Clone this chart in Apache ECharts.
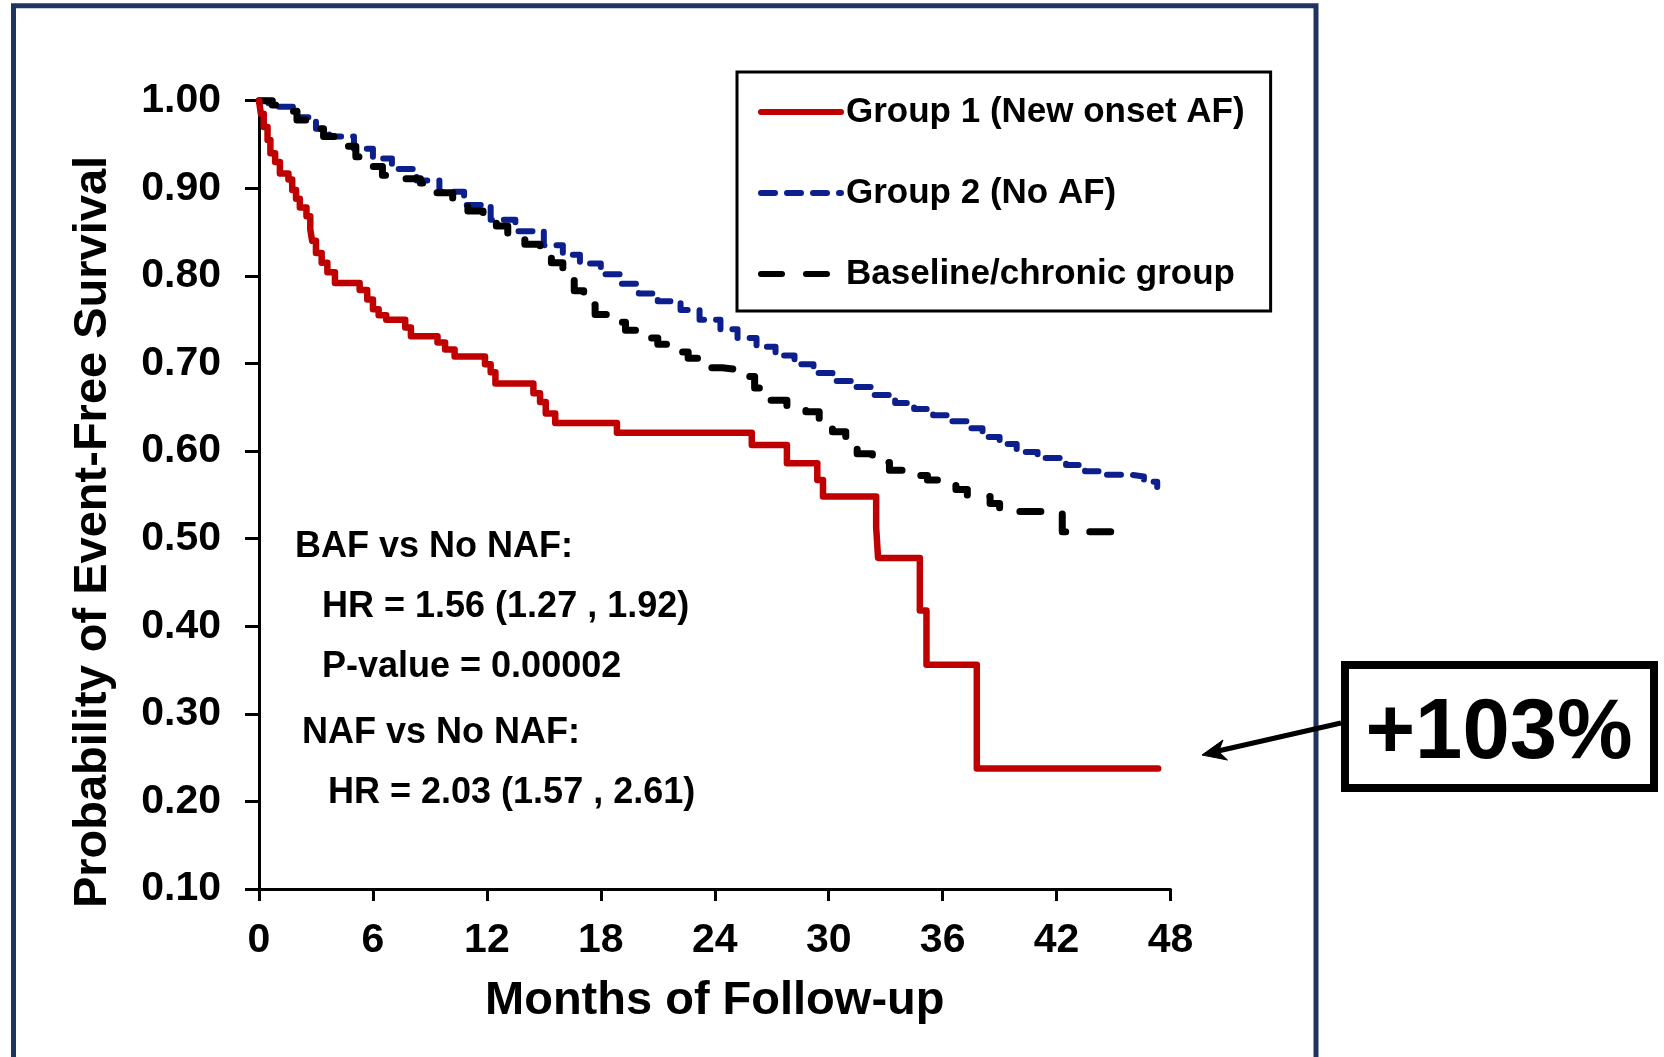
<!DOCTYPE html>
<html>
<head>
<meta charset="utf-8">
<title>Event-Free Survival by AF Group</title>
<script src="https://cdn.jsdelivr.net/npm/echarts@6/dist/echarts.min.js"></script>
<style>
  html, body { margin: 0; padding: 0; background: #ffffff; }
  #chart { width: 1664px; height: 1057px; }
</style>
</head>
<body>
<div id="chart"></div>
<script>
// Kaplan-Meier estimates: month of each step and survival after the step
const group1Months   = [0, 0.1, 0.25, 0.45, 0.6, 0.85, 1.1, 1.55, 1.75, 1.95, 2.15, 2.5, 2.7, 2.8, 3.0, 3.3, 3.6, 4.0, 5.3, 5.7, 6.0, 6.3, 6.7, 7.7, 8.0, 9.4, 9.8, 10.3, 11.9, 12.2, 12.45, 14.45, 14.8, 15.1, 15.6, 18.85, 25.95, 27.8, 29.4, 29.7, 32.5, 32.6, 34.8, 35.15, 37.8, 47.35];
const group1Survival = [1.0, 0.985, 0.97, 0.955, 0.94, 0.93, 0.917, 0.91, 0.898, 0.888, 0.878, 0.868, 0.853, 0.84, 0.826, 0.815, 0.804, 0.792, 0.784, 0.773, 0.762, 0.755, 0.75, 0.741, 0.731, 0.724, 0.716, 0.708, 0.699, 0.69, 0.677, 0.666, 0.656, 0.643, 0.632, 0.621, 0.607, 0.586, 0.567, 0.548, 0.513, 0.478, 0.418, 0.356, 0.2375, 0.2375];

const group2Months   = [0, 0.5, 1.0, 2.0, 3.0, 3.7, 5.0, 6.0, 7.0, 8.3, 9.5, 10.8, 12.2, 13.5, 15.0, 16.0, 16.9, 18.0, 19.0, 20.0, 21.0, 22.2, 23.2, 24.3, 25.2, 26.2, 27.2, 28.2, 29.2, 30.2, 31.2, 32.4, 33.5, 34.5, 35.5, 36.5, 37.3, 38.1, 39.0, 39.9, 41.0, 42.5, 43.5, 44.3, 45.9, 46.6, 47.3];
const group2Survival = [1.0, 0.997, 0.993, 0.981, 0.968, 0.959, 0.945, 0.934, 0.922, 0.909, 0.896, 0.881, 0.864, 0.851, 0.835, 0.824, 0.814, 0.802, 0.791, 0.78, 0.771, 0.761, 0.75, 0.739, 0.729, 0.719, 0.709, 0.699, 0.689, 0.68, 0.673, 0.664, 0.655, 0.648, 0.641, 0.634, 0.626, 0.616, 0.608, 0.599, 0.592, 0.584, 0.577, 0.573, 0.571, 0.565, 0.559];

const baselineMonths   = [0, 0.7, 1.4, 2.0, 2.8, 3.4, 4.3, 5.1, 5.8, 6.5, 7.5, 8.5, 9.3, 10.2, 11.0, 11.8, 12.5, 13.1, 14.0, 14.8, 15.4, 16.0, 16.6, 17.1, 17.7, 18.5, 19.3, 20.1, 21.0, 22.0, 22.6, 23.5, 24.4, 25.3, 26.1, 26.9, 27.8, 28.8, 29.5, 30.2, 30.9, 31.5, 32.3, 33.2, 34.2, 35.2, 36.0, 36.7, 37.3, 38.5, 39.0, 42.3, 45.9];
const baselineSurvival = [1.0, 0.995, 0.988, 0.978, 0.968, 0.959, 0.948, 0.936, 0.925, 0.915, 0.911, 0.906, 0.895, 0.881, 0.874, 0.868, 0.857, 0.843, 0.836, 0.828, 0.815, 0.799, 0.783, 0.767, 0.756, 0.747, 0.738, 0.729, 0.722, 0.713, 0.706, 0.695, 0.693, 0.685, 0.672, 0.658, 0.651, 0.645, 0.634, 0.622, 0.61, 0.597, 0.587, 0.578, 0.572, 0.567, 0.562, 0.556, 0.548, 0.54, 0.531, 0.508, 0.508];

const seriesNames = ['Group 1 (New onset AF)', 'Group 2 (No AF)', 'Baseline/chronic group'];
const statLines = ['BAF vs No NAF:', 'HR = 1.56 (1.27 , 1.92)', 'P-value = 0.00002', 'NAF vs No NAF:', 'HR = 2.03 (1.57 , 2.61)'];
const calloutText = '+103%';

const FONT = '"Liberation Sans", Arial, Helvetica, sans-serif';

function pairs(xs, ys) {
  return xs.map((x, i) => [x, ys[i]]);
}

// placement of the hazard-ratio notes (left edge, vertical centre)
const statPos = [[295, 547], [322, 607], [322, 667], [302, 733], [328, 793]];

const chart = echarts.init(document.getElementById('chart'), null, { renderer: 'canvas' });

const graphicEls = [
  // navy frame around the plot panel (open at the bottom edge)
  {
    type: 'rect', z: 0, silent: true,
    shape: { x: 13.5, y: 5.8, width: 1302.5, height: 1100 },
    style: { fill: 'none', stroke: '#1f3461', lineWidth: 5 }
  },
  // y axis title
  {
    type: 'text', x: 93, y: 532, rotation: Math.PI / 2, z: 10,
    style: {
      text: 'Probability of Event-Free Survival',
      font: 'bold 47px ' + FONT, fill: '#000',
      align: 'center', verticalAlign: 'middle',
      textAlign: 'center', textVerticalAlign: 'middle'
    }
  },
  // callout box
  {
    type: 'rect', z: 10,
    shape: { x: 1345, y: 665, width: 309, height: 123 },
    style: { fill: '#fff', stroke: '#000', lineWidth: 8 }
  },
  {
    type: 'text', x: 1499, y: 735, z: 11,
    style: {
      text: calloutText, font: 'bold 85px ' + FONT, fill: '#000',
      align: 'center', verticalAlign: 'middle',
      textAlign: 'center', textVerticalAlign: 'middle'
    }
  },
  // arrow from callout towards the end of Group 1
  {
    type: 'line', z: 12,
    shape: { x1: 1341, y1: 723, x2: 1218, y2: 751 },
    style: { stroke: '#000', lineWidth: 5 }
  },
  {
    type: 'polygon', z: 12,
    shape: { points: [[1202, 755], [1223, 740], [1218.5, 751.5], [1227.5, 760]] },
    style: { fill: '#000', stroke: '#000', lineWidth: 1 }
  }
];

statLines.forEach((t, i) => {
  graphicEls.push({
    type: 'text', x: statPos[i][0], y: statPos[i][1], z: 10,
    style: {
      text: t, font: 'bold 36px ' + FONT, fill: '#000',
      align: 'left', verticalAlign: 'middle',
      textAlign: 'left', textVerticalAlign: 'middle'
    }
  });
});

const option = {
  backgroundColor: '#ffffff',
  animation: false,
  grid: {
    left: 259, right: 493.5, top: 100.7, bottom: 168,
    containLabel: false, outerBoundsMode: 'none'
  },
  xAxis: {
    type: 'value', min: 0, max: 48, interval: 6,
    name: 'Months of Follow-up', nameLocation: 'middle', nameGap: 89,
    nameTextStyle: { fontFamily: FONT, fontWeight: 'bold', fontSize: 47, color: '#000' },
    axisLine: { show: true, onZero: false, lineStyle: { color: '#000', width: 3 } },
    axisTick: { show: true, inside: false, length: 12, lineStyle: { color: '#000', width: 3 } },
    axisLabel: { margin: 31, fontFamily: FONT, fontWeight: 'bold', fontSize: 41, color: '#000' },
    splitLine: { show: false }
  },
  yAxis: {
    type: 'value', min: 0.1, max: 1.0, interval: 0.1,
    axisLine: { show: true, onZero: false, lineStyle: { color: '#000', width: 3 } },
    axisTick: { show: true, inside: false, length: 14, lineStyle: { color: '#000', width: 3 } },
    axisLabel: {
      margin: 38, fontFamily: FONT, fontWeight: 'bold', fontSize: 41, color: '#000',
      formatter: v => v.toFixed(2)
    },
    splitLine: { show: false }
  },
  legend: {
    orient: 'vertical', left: 737, top: 72,
    padding: [20, 26, 17, 21],
    itemWidth: 80, itemHeight: 14, itemGap: 41,
    borderColor: '#000', borderWidth: 3, backgroundColor: '#fff',
    textStyle: { fontFamily: FONT, fontWeight: 'bold', fontSize: 35, color: '#000', lineHeight: 40 },
    itemStyle: { opacity: 0 },
    lineStyle: { width: 6 },
    data: seriesNames
  },
  series: [
    {
      name: seriesNames[0], type: 'line', step: 'end', symbol: 'none', clip: false, z: 4,
      data: pairs(group1Months, group1Survival),
      lineStyle: { color: '#c00000', width: 6.5, type: 'solid', cap: 'round', join: 'round' },
      itemStyle: { color: '#c00000' }
    },
    {
      name: seriesNames[1], type: 'line', step: 'end', symbol: 'none', clip: false, z: 2,
      data: pairs(group2Months, group2Survival),
      lineStyle: { color: '#0d1f8c', width: 6, type: [14, 12], cap: 'round', join: 'round' },
      itemStyle: { color: '#0d1f8c' }
    },
    {
      name: seriesNames[2], type: 'line', step: 'end', symbol: 'none', clip: false, z: 3,
      data: pairs(baselineMonths, baselineSurvival),
      lineStyle: { color: '#000000', width: 7, type: [21, 24], cap: 'round', join: 'round' },
      itemStyle: { color: '#000000' }
    }
  ],
  graphic: { elements: graphicEls }
};

chart.setOption(option);
</script>
</body>
</html>
